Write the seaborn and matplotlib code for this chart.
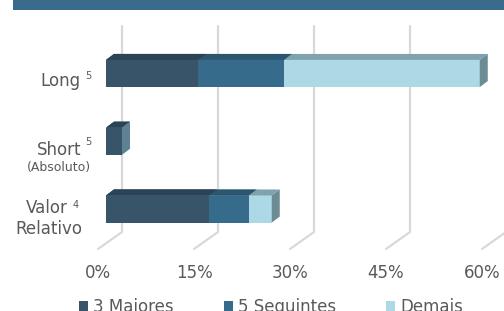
import matplotlib
matplotlib.use("Agg")
import matplotlib.pyplot as plt
import matplotlib.transforms as mtransforms
from matplotlib.patches import Polygon, Rectangle
from matplotlib.lines import Line2D
import seaborn as sns

# values (% of total)
categories = ["Long", "Short", "Valor Relativo"]
maiores = [14.4, 2.5, 16.1]
seguintes = [13.4, 0.0, 6.2]
demais = [30.6, 0.0, 3.6]
ticks = [0, 15, 30, 45, 60]
tick_labels = ["0%", "15%", "30%", "45%", "60%"]
legend_labels = ["3 Maiores", "5 Seguintes", "Demais"]

front = ["#385468", "#376b8b", "#add8e6"]
top = ["#2b4355", "#2c5670", "#7fa3ae"]
side = ["#5e8291", "#5e8291", "#6b8b95"]
grey = "#595959"
grid_c = "#d9d9d9"

sns.set_theme(style="white")
plt.rcParams["font.family"] = ["DejaVu Sans"]

W, H = 504, 311
fig = plt.figure(figsize=(W / 100, H / 100), dpi=100)
fig.patch.set_facecolor("white")
# axes = front plane of the bars: 0% at x=106px, 60% at x=490px, y from 26 to 250px
ax = fig.add_axes([106 / W, 1 - 250 / H, 384 / W, 224 / H])
ax.set_facecolor("none")

cum1 = maiores
cum2 = [a + b for a, b in zip(maiores, seguintes)]
cum3 = [a + b + c for a, b, c in zip(maiores, seguintes, demais)]
for vals, col in [(cum3, front[2]), (cum2, front[1]), (cum1, front[0])]:
    sns.barplot(x=vals, y=categories, color=col, width=0.4, orient="h",
                errorbar=None, saturation=1, linewidth=0, ax=ax)

ax.set_xlim(0, 60)
ax.set_ylim(2.605, -0.701)
ax.set_xticks(ticks)
ax.set_xticklabels(tick_labels, fontsize=12, color=grey)
ax.set_yticks([])
ax.set_ylabel("")
ax.tick_params(axis="x", length=0, pad=10)
for s in ax.spines.values():
    s.set_visible(False)
shift = mtransforms.ScaledTranslation(-0.08, 0, fig.dpi_scale_trans)
for lab in ax.get_xticklabels():
    lab.set_transform(lab.get_transform() + shift)

ident = mtransforms.IdentityTransform()

# back wall + floor gridlines (3D look)
y_top, y_back, y_floor = H - 26, H - 232, H - 249
for v in ticks:
    fx = ax.transData.transform((v, 0))[0]
    fig.add_artist(Line2D([fx + 16, fx + 16, fx - 8], [y_top, y_back, y_floor],
                          color=grid_c, lw=1.6, transform=ident, zorder=-1))

# 3D top and end faces for the bars
dx, dy = 8, 6
n = len(categories)
for k in range(3):
    for i in range(n):
        p = ax.patches[k * n + i]
        if p.get_width() <= 0:
            continue
        (x0, y0), (x1, y1) = ax.transData.transform(
            [(p.get_x(), p.get_y()), (p.get_x() + p.get_width(), p.get_y() + p.get_height())])
        yb, yt = min(y0, y1), max(y0, y1)
        ci = 2 - k
        fig.add_artist(Polygon([(x0, yt), (x1, yt), (x1 + dx, yt + dy), (x0 + dx, yt + dy)],
                               closed=True, fc=top[ci], ec="none", transform=ident, zorder=2))
for i in range(n):
    p = ax.patches[i]
    (x0, y0), (x1, y1) = ax.transData.transform(
        [(p.get_x(), p.get_y()), (p.get_x() + p.get_width(), p.get_y() + p.get_height())])
    yb, yt = min(y0, y1), max(y0, y1)
    last = 2 if demais[i] > 0 else (1 if seguintes[i] > 0 else 0)
    fig.add_artist(Polygon([(x1, yb), (x1, yt), (x1 + dx, yt + dy), (x1 + dx, yb + dy)],
                           closed=True, fc=side[last], ec="none", transform=ident, zorder=2))

# category labels with superscripts
blend = mtransforms.blended_transform_factory(ax.transAxes, ax.transData)
labels = [
    (0, "Long", -25, -12.5, 12, "right"), (0, "5", -21, -5.5, 7, "left"),
    (1, "Short", -25, -14, 12, "right"), (1, "5", -21, -4, 7, "left"),
    (1, "(Absoluto)", -47, -30, 9, "center"),
    (2, "Valor", -38, -4, 12, "right"), (2, "4", -33, 1, 7, "left"),
    (2, "Relativo", -24, -25, 12, "right"),
]
for yi, txt, ox, oy, fs, ha in labels:
    ax.annotate(txt, xy=(0, yi), xycoords=blend, xytext=(ox, oy),
                textcoords="offset pixels", ha=ha, va="baseline",
                fontsize=fs, color=grey, annotation_clip=False)

# header band
fig.add_artist(Rectangle((13 / W, 1 - 10 / H), 1, 10 / H, transform=fig.transFigure,
                         fc="#3a6a8c", ec="none", zorder=3))

handles = [Rectangle((0, 0), 1, 1, fc=c, ec="none") for c in front]
fig.legend(handles, legend_labels, loc="upper left", bbox_to_anchor=(79 / W, 1 - 298 / H),
           ncol=3, frameon=False, fontsize=12, labelcolor=grey, borderpad=0,
           borderaxespad=0, handlelength=0.55, handleheight=0.55, handletextpad=0.3,
           columnspacing=3.0)

fig.savefig("out.png", dpi=100)
